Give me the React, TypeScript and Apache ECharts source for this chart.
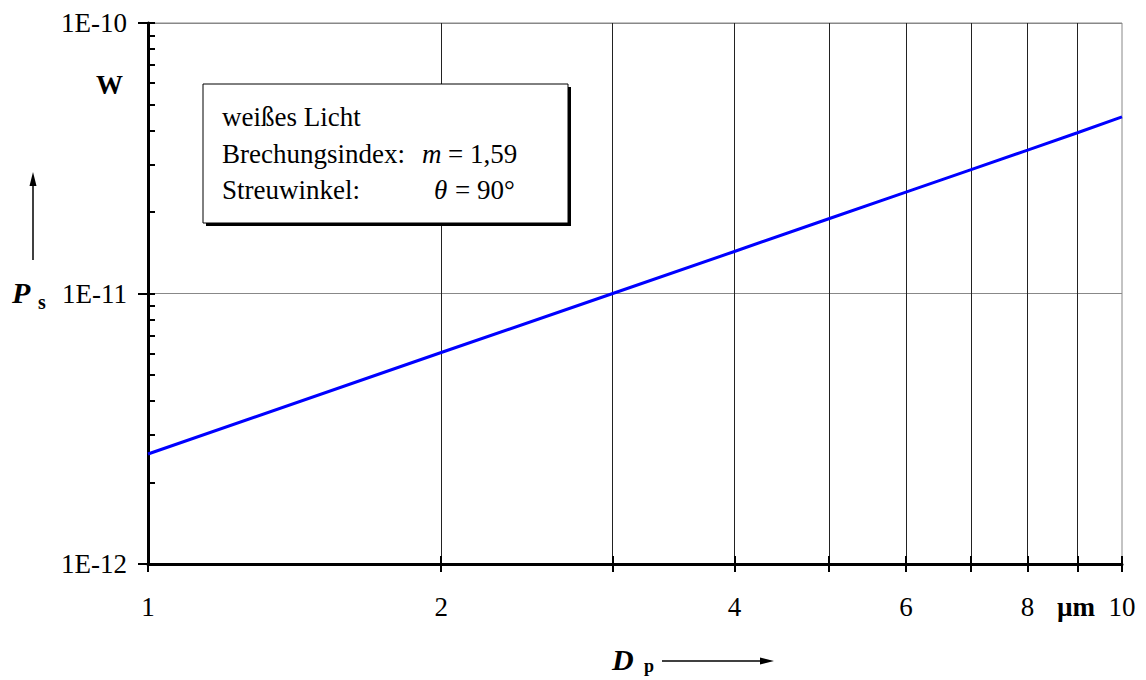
import React, { useEffect, useRef } from "react";
import * as echarts from "echarts";

const dpUm = [1, 2, 3, 4, 5, 6, 7, 8, 9, 10];
const psW = [2.55e-12, 6.05e-12, 1.0e-11, 1.43e-11, 1.89e-11, 2.37e-11, 2.87e-11, 3.39e-11, 3.93e-11, 4.5e-11];
const xTickValues = [1, 2, 3, 4, 5, 6, 7, 8, 9, 10];
const xLabelValues = [1, 2, 4, 6, 8, 10];
const yMajorValues = [1e-12, 1e-11, 1e-10];
const yMinorValues = [
  1e-12, 2e-12, 3e-12, 4e-12, 5e-12, 6e-12, 7e-12, 8e-12, 9e-12,
  1e-11, 2e-11, 3e-11, 4e-11, 5e-11, 6e-11, 7e-11, 8e-11, 9e-11, 1e-10,
];
const legendLines = ["weißes Licht", "Brechungsindex:", "Streuwinkel:"];

const FONT = '"Liberation Serif", "Times New Roman", serif';

export default function App() {
  const ref = useRef<HTMLDivElement>(null);
  useEffect(() => {
    if (!ref.current) return;
    const chart = echarts.init(ref.current, null, { renderer: "svg" });
    const txt = (x: number, y: number, text: string, size: number, weight = "normal", style = "normal") => ({
      type: "text",
      x,
      y,
      z: 100,
      style: {
        text,
        fill: "#000",
        fontSize: size,
        fontWeight: weight,
        fontStyle: style,
        fontFamily: FONT,
        verticalAlign: "middle",
        align: "left",
      },
    });
    chart.setOption({
      animation: false,
      backgroundColor: "#fff",
      grid: {
        left: 148,
        right: 24,
        top: 23,
        bottom: 116,
        show: true,
        borderColor: "#888",
        borderWidth: 1,
        backgroundColor: "transparent",
      },
      xAxis: [
        {
          type: "log",
          logBase: 10,
          min: 1,
          max: 10,
          position: "bottom",
          axisLine: { show: true, lineStyle: { color: "#000", width: 3 } },
          axisTick: {
            show: true,
            inside: false,
            length: 8,
            customValues: xTickValues,
            lineStyle: { color: "#000", width: 2 },
          },
          axisLabel: {
            show: true,
            customValues: xLabelValues,
            fontSize: 27,
            fontFamily: FONT,
            color: "#000",
            margin: 29,
            formatter: (v: number) => String(Math.round(v)),
          },
          splitLine: {
            show: true,
            showMinLine: false,
            showMaxLine: false,
            lineStyle: { color: "#222", width: 1 },
          },
        },
        {
          type: "log",
          logBase: 10,
          min: 1,
          max: 10,
          position: "bottom",
          axisLine: { show: false },
          axisTick: {
            show: true,
            inside: true,
            length: 8,
            customValues: xTickValues,
            lineStyle: { color: "#000", width: 2 },
          },
          axisLabel: { show: false },
          splitLine: { show: false },
        },
      ],
      yAxis: [
        {
          type: "log",
          logBase: 10,
          min: 1e-12,
          max: 1e-10,
          position: "left",
          axisLine: { show: true, lineStyle: { color: "#000", width: 3 } },
          axisTick: {
            show: true,
            inside: false,
            length: 10,
            customValues: yMajorValues,
            lineStyle: { color: "#000", width: 2 },
          },
          axisLabel: {
            show: true,
            customValues: yMajorValues,
            fontSize: 27,
            fontFamily: FONT,
            color: "#000",
            margin: 21,
            formatter: (v: number) => "1E" + Math.round(Math.log10(v)),
          },
          splitLine: {
            show: true,
            showMinLine: false,
            lineStyle: { color: "#888", width: 1 },
          },
        },
        {
          type: "log",
          logBase: 10,
          min: 1e-12,
          max: 1e-10,
          position: "left",
          axisLine: { show: false },
          axisTick: {
            show: true,
            inside: true,
            length: 7,
            customValues: yMinorValues,
            lineStyle: { color: "#000", width: 2 },
          },
          axisLabel: { show: false },
          splitLine: { show: false },
        },
      ],
      series: [
        {
          type: "line",
          xAxisIndex: 0,
          yAxisIndex: 0,
          data: dpUm.map((d, i) => [d, psW[i]]),
          showSymbol: false,
          symbol: "none",
          lineStyle: { color: "#0000ff", width: 3 },
          z: 5,
        },
      ],
      graphic: [
        { type: "rect", shape: { x: 206, y: 87, width: 365, height: 139 }, style: { fill: "#000" }, z: 90 },
        {
          type: "rect",
          shape: { x: 203, y: 84, width: 365, height: 139 },
          style: { fill: "#fff", stroke: "#000", lineWidth: 1 },
          z: 91,
        },
        txt(222, 117, legendLines[0], 27),
        txt(222, 154, legendLines[1], 27),
        txt(422, 154, "m", 27, "normal", "italic"),
        txt(448, 154, "= 1,59", 27),
        txt(222, 190, legendLines[2], 27),
        txt(434, 190, "θ", 27, "normal", "italic"),
        txt(455, 190, "= 90°", 27),
        { type: "line", shape: { x1: 33, y1: 260, x2: 33, y2: 182 }, style: { stroke: "#000", lineWidth: 1.5 }, z: 100 },
        { type: "polygon", shape: { points: [[33, 172], [29.5, 186], [36.5, 186]] }, style: { fill: "#000" }, z: 100 },
        txt(12, 292, "P", 30, "bold", "italic"),
        txt(38, 302, "s", 20, "bold"),
        txt(96, 85, "W", 27, "bold"),
        txt(612, 659, "D", 30, "bold", "italic"),
        txt(644, 666, "p", 18, "bold"),
        { type: "line", shape: { x1: 662, y1: 661, x2: 762, y2: 661 }, style: { stroke: "#000", lineWidth: 1.5 }, z: 100 },
        { type: "polygon", shape: { points: [[774, 661], [760, 657.5], [760, 664.5]] }, style: { fill: "#000" }, z: 100 },
        txt(1057, 607, "µm", 27, "bold"),
      ],
    });
    return () => chart.dispose();
  }, []);
  return (
    <div
      ref={ref}
      style={{ position: "fixed", left: 0, top: 0, width: 1146, height: 680, background: "#fff" }}
    />
  );
}
